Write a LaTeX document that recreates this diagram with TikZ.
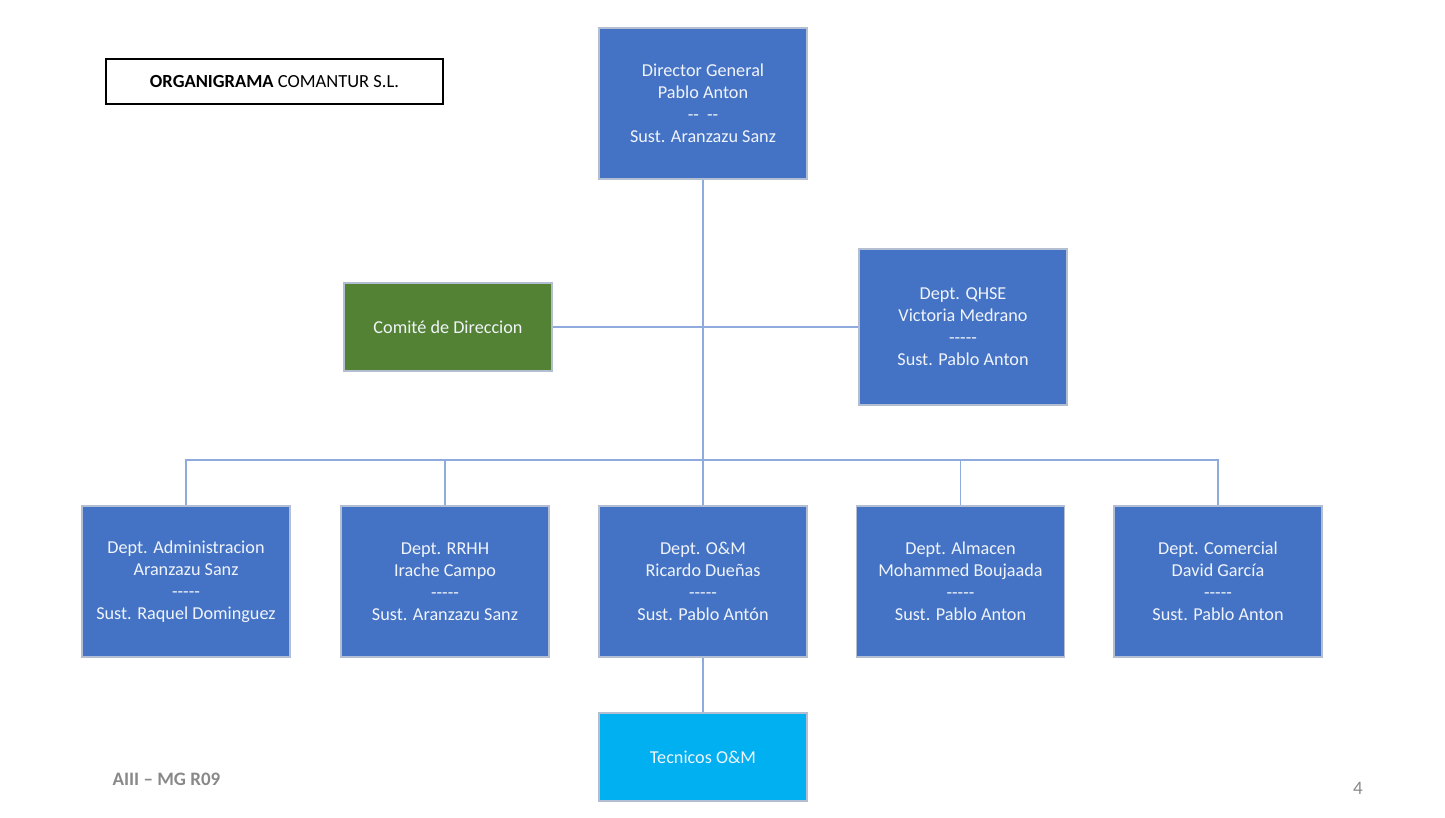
\documentclass[tikz,border=0pt]{standalone}
\usepackage{fontspec}
\setmainfont{Carlito}
\usepackage{tikz}
\usetikzlibrary{positioning, calc}
\definecolor{orgblue}{RGB}{68,114,196}
\definecolor{orggreen}{RGB}{84,130,53}
\definecolor{orgcyan}{RGB}{0,176,240}
\definecolor{orgline}{RGB}{143,170,220}
\definecolor{orgedge}{RGB}{180,190,210}
\definecolor{orggray}{RGB}{137,137,137}

\begin{document}
\begin{tikzpicture}[x=1pt, y=-1pt,
  unit/.style={draw=orgedge, line width=1.2pt, fill=orgblue, text=white!92!orgblue,
               minimum width=208pt, minimum height=151pt, inner sep=0pt,
               align=center, font=\fontsize{18.2}{22}\selectfont},
  small/.style={unit, minimum height=88pt},
  link/.style={draw=orgline, line width=1.8pt},
  foot/.style={text=orggray, font=\fontsize{19}{22}\selectfont}
]
  \useasboundingbox (0,0) rectangle (1445,818);

  %% Title
  \node[draw=black, line width=1.6pt, minimum width=337pt, minimum height=45pt,
        font=\fontsize{18.5}{22}\selectfont] (title) at (274.5,81.5)
        {\textbf{ORGANIGRAMA} COMANTUR S.L.};

  %% Top level
  \node[unit] (dir) at (703,103.5)
        {Director General\\Pablo Anton\\-{}-~~-{}-\\Sust. Aranzazu Sanz};
  \node[small, fill=orggreen] (com) at (448,327) {Comité de Direccion};
  \node[unit, minimum height=156pt] (qhse) at (963,327)
        {Dept. QHSE\\Victoria Medrano\\-{}-{}-{}-{}-\\Sust. Pablo Anton};

  %% Departments
  \node[unit] (adm)  at (186,581.5)
        {Dept. Administracion\\Aranzazu Sanz\\-{}-{}-{}-{}-\\Sust. Raquel Dominguez};
  \node[unit] (rrhh) at (445,581.5)
        {Dept. RRHH\\Irache Campo\\-{}-{}-{}-{}-\\Sust. Aranzazu Sanz};
  \node[unit] (om)   at (703,581.5)
        {Dept. O\&M\\Ricardo Dueñas\\-{}-{}-{}-{}-\\Sust. Pablo Antón};
  \node[unit] (alm)  at (960.5,581.5)
        {Dept. Almacen\\Mohammed Boujaada\\-{}-{}-{}-{}-\\Sust. Pablo Anton};
  \node[unit] (comer) at (1218,581.5)
        {Dept. Comercial\\David García\\-{}-{}-{}-{}-\\Sust. Pablo Anton};
  \node[small, fill=orgcyan] (tec) at (703,757) {Tecnicos O\&M};

  %% Connectors
  \coordinate (bus) at (703,460);
  \draw[link] (dir) -- (om);
  \draw[link] (com) -- (qhse);
  \draw[link] (adm.north) |- (bus) -| (comer.north);
  \draw[link] (bus) -| (rrhh.north);
  \draw[link] (bus) -| (alm.north);
  \draw[link] (om) -- (tec);

  %% Footer
  \node[foot, anchor=west] (code) at (109,779) {\textbf{AIII – MG R09}};
  \node[foot] (page) at (1358,788) {4};
\end{tikzpicture}
\end{document}
